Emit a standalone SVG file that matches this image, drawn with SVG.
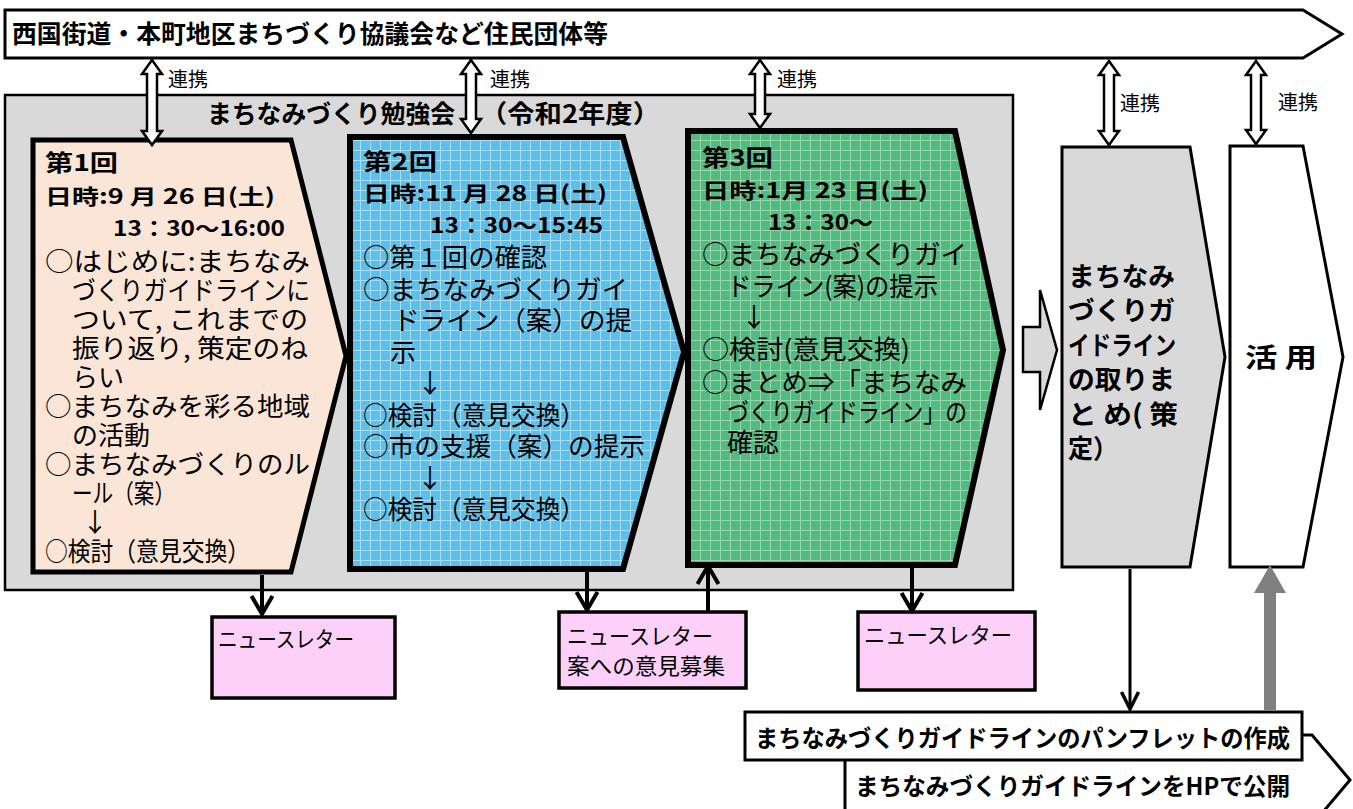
<svg xmlns="http://www.w3.org/2000/svg" width="1353" height="809" viewBox="0 0 1353 809">
<style>
text{font-family:"Noto Sans CJK JP","Noto Sans CJK SC",sans-serif;fill:#000}
.b{font-weight:bold}
.t24{font-size:24px}
.t25{font-size:25px}
.t26{font-size:26px}
.h22{font-size:23px;font-weight:bold}
.h21{font-size:21px;font-weight:bold}
.it{font-size:26px}
.lab{font-size:20px}
.nl{font-size:22px}
.ln{stroke:#000;fill:none}
.dbl{fill:#fff;stroke:#000;stroke-width:2.5;stroke-linejoin:miter}
</style>
<defs>
<pattern id="gBlue" width="10" height="10" patternUnits="userSpaceOnUse">
<rect width="10" height="10" fill="#5cc0ea"/>
<path d="M0,0.5H10M0.5,0V10" stroke="#a9def4" stroke-width="1"/>
</pattern>
<pattern id="gGreen" width="10" height="10" patternUnits="userSpaceOnUse">
<rect width="10" height="10" fill="#52bb7f"/>
<path d="M0,0.5H10M0.5,0V10" stroke="#98d6b0" stroke-width="1"/>
</pattern>
<marker id="vh" viewBox="-3 -13 24 26" refX="18" refY="0" markerWidth="24" markerHeight="26" markerUnits="userSpaceOnUse" orient="auto">
<path d="M0,-10.5 L18,0 L0,10.5" fill="none" stroke="#000" stroke-width="4"/>
</marker>
<marker id="vhs" viewBox="-3 -11 22 22" refX="17" refY="0" markerWidth="22" markerHeight="22" markerUnits="userSpaceOnUse" orient="auto">
<path d="M0,-8.5 L17,0 L0,8.5" fill="none" stroke="#000" stroke-width="3.5"/>
</marker>
</defs>

<g id="residents">
<path d="M5,10 L1303,10 L1342,34 L1303,58 L5,58 Z" fill="#fff" stroke="#000" stroke-width="3"/>
<text class="b t25" x="12" y="43" textLength="596" lengthAdjust="spacingAndGlyphs">西国街道・本町地区まちづくり協議会など住民団体等</text>
</g>

<g id="study-group">
<rect x="5" y="95" width="1008" height="495" fill="#d9d9d9" stroke="#000" stroke-width="2.5"/>
<text class="b t25" x="207" y="123" textLength="248" lengthAdjust="spacingAndGlyphs">まちなみづくり勉強会</text>
<text class="b t25" x="480" y="123" textLength="180" lengthAdjust="spacingAndGlyphs">（令和2年度）</text>
</g>

<g id="session1">
<path d="M33,140 L291,140 L346,356 L291,572 L33,572 Z" fill="#fbe5d6" stroke="#000" stroke-width="5" stroke-linejoin="miter"/>
<text class="h22" x="45" y="171" textLength="73" lengthAdjust="spacingAndGlyphs">第1回</text>
<text class="h21" x="45" y="204" textLength="230" lengthAdjust="spacingAndGlyphs">日時:9 月 26 日(土)</text>
<text class="h21" x="113" y="236" textLength="172" lengthAdjust="spacingAndGlyphs">13：30～16:00</text>
<text class="it" x="45" y="271" textLength="265" lengthAdjust="spacingAndGlyphs">○はじめに:まちなみ</text>
<text class="it" x="72" y="300" textLength="238" lengthAdjust="spacingAndGlyphs">づくりガイドラインに</text>
<text class="it" x="72" y="329" textLength="236" lengthAdjust="spacingAndGlyphs">ついて, これまでの</text>
<text class="it" x="72" y="358" textLength="236" lengthAdjust="spacingAndGlyphs">振り返り, 策定のね</text>
<text class="it" x="72" y="387">らい</text>
<text class="it" x="45" y="416" textLength="265" lengthAdjust="spacingAndGlyphs">○まちなみを彩る地域</text>
<text class="it" x="72" y="445">の活動</text>
<text class="it" x="45" y="474" textLength="265" lengthAdjust="spacingAndGlyphs">○まちなみづくりのル</text>
<text class="it" x="72" y="503" textLength="103" lengthAdjust="spacingAndGlyphs">ール（案）</text>
<text class="it" x="82" y="532">↓</text>
<text class="it" x="45" y="561" textLength="205" lengthAdjust="spacingAndGlyphs">○検討（意見交換）</text>
</g>

<g id="session2">
<path d="M350,137 L623,137 L684,352 L623,569 L350,569 Z" fill="url(#gBlue)" stroke="#000" stroke-width="6" stroke-linejoin="miter"/>
<text class="h22" x="363" y="170" textLength="74" lengthAdjust="spacingAndGlyphs">第2回</text>
<text class="h21" x="363" y="201" textLength="244" lengthAdjust="spacingAndGlyphs">日時:11 月 28 日(土)</text>
<text class="h21" x="430" y="233" textLength="173" lengthAdjust="spacingAndGlyphs">13：30～15:45</text>
<text class="it" x="363" y="267" textLength="184" lengthAdjust="spacingAndGlyphs">○第１回の確認</text>
<text class="it" x="363" y="299" textLength="265" lengthAdjust="spacingAndGlyphs">○まちなみづくりガイ</text>
<text class="it" x="393" y="330" textLength="239" lengthAdjust="spacingAndGlyphs">ドライン（案）の提</text>
<text class="it" x="390" y="362">示</text>
<text class="it" x="417" y="393">↓</text>
<text class="it" x="363" y="425" textLength="222" lengthAdjust="spacingAndGlyphs">○検討（意見交換）</text>
<text class="it" x="363" y="456" textLength="282" lengthAdjust="spacingAndGlyphs">○市の支援（案）の提示</text>
<text class="it" x="417" y="488">↓</text>
<text class="it" x="363" y="519" textLength="222" lengthAdjust="spacingAndGlyphs">○検討（意見交換）</text>
</g>

<g id="session3">
<path d="M688,131 L955,131 L1003,350 L955,565 L688,565 Z" fill="url(#gGreen)" stroke="#000" stroke-width="6" stroke-linejoin="miter"/>
<text class="h22" x="702" y="166" textLength="71" lengthAdjust="spacingAndGlyphs">第3回</text>
<text class="h21" x="702" y="198" textLength="226" lengthAdjust="spacingAndGlyphs">日時:1月 23 日(土)</text>
<text class="h21" x="768" y="230" textLength="105" lengthAdjust="spacingAndGlyphs">13：30～</text>
<text class="it" x="702" y="264" textLength="265" lengthAdjust="spacingAndGlyphs">○まちなみづくりガイ</text>
<text class="it" x="727" y="296" textLength="211" lengthAdjust="spacingAndGlyphs">ドライン(案)の提示</text>
<text class="it" x="741" y="327">↓</text>
<text class="it" x="702" y="359" textLength="208" lengthAdjust="spacingAndGlyphs">○検討(意見交換)</text>
<text class="it" x="702" y="392" textLength="265" lengthAdjust="spacingAndGlyphs">○まとめ⇒「まちなみ</text>
<text class="it" x="727" y="422" textLength="240" lengthAdjust="spacingAndGlyphs">づくりガイドライン」の</text>
<text class="it" x="727" y="452">確認</text>
</g>

<g id="compile">
<path d="M1062,147 L1190,147 L1225,357 L1190,567 L1062,567 Z" fill="#d9d9d9" stroke="#000" stroke-width="3" stroke-linejoin="miter"/>
<text class="b t26" x="1068" y="286" textLength="107" lengthAdjust="spacingAndGlyphs">まちなみ</text>
<text class="b t26" x="1068" y="320" textLength="107" lengthAdjust="spacingAndGlyphs">づくりガ</text>
<text class="b t26" x="1068" y="355" textLength="108" lengthAdjust="spacingAndGlyphs">イドライン</text>
<text class="b t26" x="1068" y="389" textLength="107" lengthAdjust="spacingAndGlyphs">の取りま</text>
<text class="b t26" x="1068" y="424" textLength="110" lengthAdjust="spacingAndGlyphs">と め( 策</text>
<text class="b t26" x="1068" y="458" textLength="50" lengthAdjust="spacingAndGlyphs">定）</text>
</g>

<g id="use">
<path d="M1230,146 L1303,146 L1343,357 L1303,567 L1230,567 Z" fill="#fff" stroke="#000" stroke-width="3" stroke-linejoin="miter"/>
<text class="b t26" x="1245" y="367" textLength="72" lengthAdjust="spacingAndGlyphs">活 用</text>
</g>

<g id="newsletter1">
<rect x="212" y="617" width="183" height="81" fill="#fdd0fa" stroke="#000" stroke-width="3.5"/>
<text class="nl" x="218" y="647" textLength="136" lengthAdjust="spacingAndGlyphs">ニュースレター</text>
</g>
<g id="newsletter2">
<rect x="559" y="612" width="187" height="76" fill="#fdd0fa" stroke="#000" stroke-width="3.5"/>
<text class="nl" x="567" y="644" textLength="146" lengthAdjust="spacingAndGlyphs">ニュースレター</text>
<text class="nl" x="567" y="674" textLength="158" lengthAdjust="spacingAndGlyphs">案への意見募集</text>
</g>
<g id="newsletter3">
<rect x="858" y="612" width="177" height="78" fill="#fdd0fa" stroke="#000" stroke-width="3.5"/>
<text class="nl" x="864" y="643" textLength="148" lengthAdjust="spacingAndGlyphs">ニュースレター</text>
</g>

<g id="hp">
<path d="M845,735 L1312,735 L1350,780 L1312,825 L845,825 Z" fill="#fff" stroke="#000" stroke-width="3"/>
<text class="b t24" x="855" y="795" textLength="435" lengthAdjust="spacingAndGlyphs">まちなみづくりガイドラインをHPで公開</text>
</g>
<g id="pamphlet">
<rect x="745" y="712" width="557" height="48" fill="#fff" stroke="#000" stroke-width="3"/>
<text class="b t24" x="755" y="747" textLength="535" lengthAdjust="spacingAndGlyphs">まちなみづくりガイドラインのパンフレットの作成</text>
</g>

<g id="connectors">
<path class="dbl" d="M152,60 L162,74 L157,74 L157,131 L162,131 L152,145 L142,131 L147,131 L147,74 L142,74 Z"/>
<path class="dbl" d="M471,60 L481,74 L476,74 L476,119 L481,119 L471,133 L461,119 L466,119 L466,74 L461,74 Z"/>
<path class="dbl" d="M760,60 L770,74 L765,74 L765,114 L770,114 L760,128 L750,114 L755,114 L755,74 L750,74 Z"/>
<path class="dbl" d="M1109,61 L1119,75 L1114,75 L1114,131 L1119,131 L1109,145 L1099,131 L1104,131 L1104,75 L1099,75 Z"/>
<path class="dbl" d="M1256,61 L1266,75 L1261,75 L1261,130 L1266,130 L1256,144 L1246,130 L1251,130 L1251,75 L1246,75 Z"/>
<text class="lab" x="168" y="87">連携</text>
<text class="lab" x="490" y="87">連携</text>
<text class="lab" x="777" y="87">連携</text>
<text class="lab" x="1120" y="111">連携</text>
<text class="lab" x="1278" y="110">連携</text>
<path d="M1023,327 L1040,327 L1040,290 L1057,350 L1040,410 L1040,372 L1023,372 Z" fill="#d9d9d9" stroke="#000" stroke-width="2.5"/>
<line class="ln" x1="262" y1="575" x2="262" y2="614" stroke-width="4" marker-end="url(#vh)"/>
<line class="ln" x1="587" y1="572" x2="587" y2="610" stroke-width="4" marker-end="url(#vh)"/>
<line class="ln" x1="708" y1="611" x2="708" y2="566" stroke-width="4" marker-end="url(#vh)"/>
<line class="ln" x1="912" y1="568" x2="912" y2="611" stroke-width="4" marker-end="url(#vh)"/>
<line class="ln" x1="1130" y1="569" x2="1130" y2="709" stroke-width="3" marker-end="url(#vhs)"/>
<path d="M1264,711 L1264,593 L1254,593 L1270,565 L1286,593 L1276,593 L1276,711 Z" fill="#808080"/>
</g>
</svg>
